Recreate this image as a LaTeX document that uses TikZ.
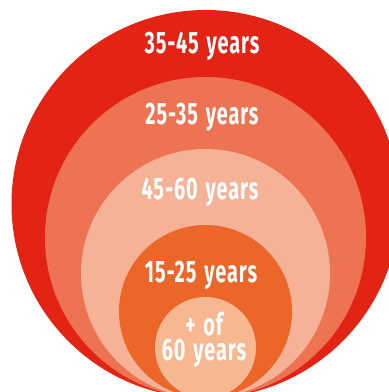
\documentclass[tikz,border=0pt]{standalone}
\usepackage{fontspec}
\setmainfont{Fira Sans}[FakeStretch=0.64, LetterSpace=3, WordSpace=1.4]
\definecolor{cred}{HTML}{E32415}
\definecolor{csalmon}{HTML}{EE7352}
\definecolor{cpeach}{HTML}{F6B296}
\definecolor{corange}{HTML}{EB6628}
\definecolor{clight}{HTML}{F7B791}
\tikzset{
  lbl/.style={text=white, font=\fontsize{31}{25}\selectfont\bfseries, anchor=base, inner sep=0pt, align=center},
}
\begin{document}
\begin{tikzpicture}[x=1pt,y=1pt]
\useasboundingbox (0,0) rectangle (389,392);
\clip (0,0) rectangle (389,392);
\fill[cred] (205.5,188) circle (194);
\fill[csalmon] (205.5,154.5) circle (160.5);
\fill[cpeach] (205.5,118.5) circle (124.5);
\fill[corange] (205.5,80.5) circle (86.5);
\fill[clight] (205.5,44.5) circle (50.5);
\node[lbl] (a) at (202,338) {35-45 years};
\node[lbl] (b) at (202,267) {25-35 years};
\node[lbl] (c) at (200,192) {45-60 years};
\node[lbl] (d) at (201,110) {15-25 years};
\node[lbl, anchor=base] (e) at (204,32) {+ of\\60 years};
\end{tikzpicture}
\end{document}
